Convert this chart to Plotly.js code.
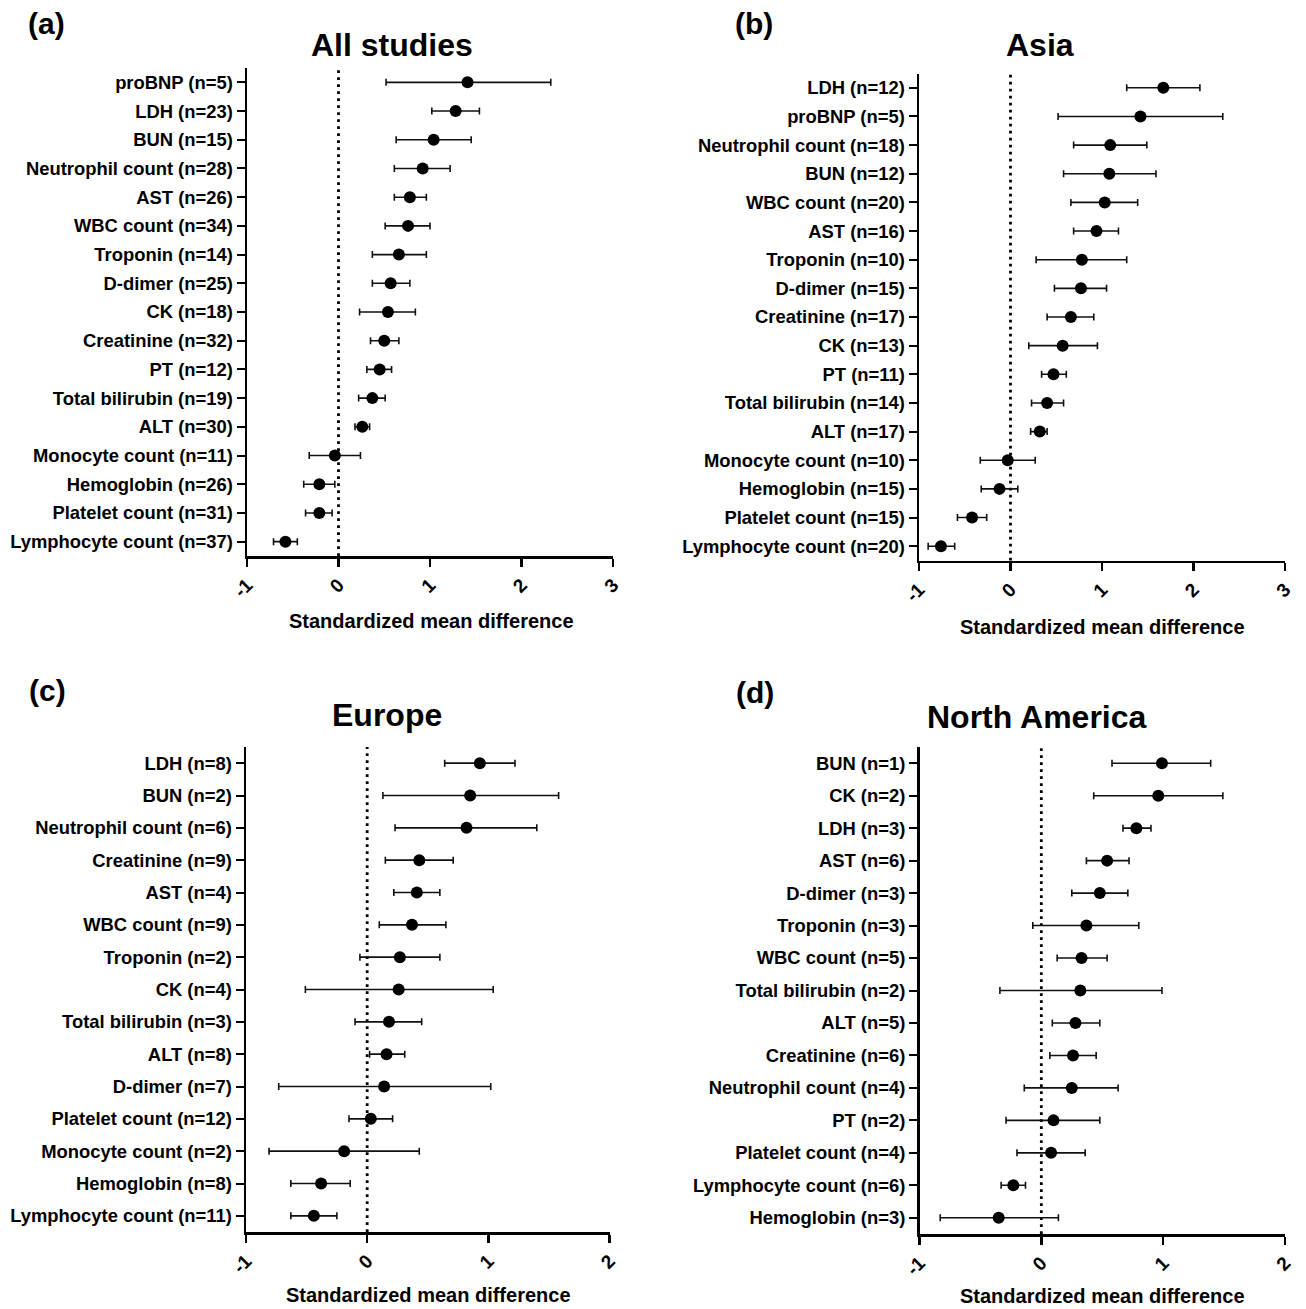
<!DOCTYPE html>
<html>
<head>
<meta charset="utf-8">
<script src="https://cdn.plot.ly/plotly-3.0.1.min.js"></script>
<style>html,body{margin:0;padding:0;background:#fff;}#chart{width:1306px;height:1309px;}</style>
</head>
<body>
<div id="chart"></div>
<script>
// ---- Data (standardized mean difference with 95% CI) ----
const catsA = ['proBNP (n=5)','LDH (n=23)','BUN (n=15)','Neutrophil count (n=28)','AST (n=26)','WBC count (n=34)','Troponin (n=14)','D-dimer (n=25)','CK (n=18)','Creatinine (n=32)','PT (n=12)','Total bilirubin (n=19)','ALT (n=30)','Monocyte count (n=11)','Hemoglobin (n=26)','Platelet count (n=31)','Lymphocyte count (n=37)'];
const smdA = [1.41,1.28,1.04,0.92,0.78,0.76,0.66,0.57,0.54,0.50,0.45,0.37,0.26,-0.04,-0.21,-0.21,-0.58];
const loA  = [0.52,1.02,0.63,0.61,0.61,0.51,0.37,0.37,0.23,0.35,0.31,0.22,0.18,-0.32,-0.38,-0.36,-0.71];
const hiA  = [2.32,1.54,1.45,1.22,0.96,1.00,0.96,0.78,0.84,0.66,0.58,0.51,0.34,0.24,-0.04,-0.07,-0.45];

const catsB = ['LDH (n=12)','proBNP (n=5)','Neutrophil count (n=18)','BUN (n=12)','WBC count (n=20)','AST (n=16)','Troponin (n=10)','D-dimer (n=15)','Creatinine (n=17)','CK (n=13)','PT (n=11)','Total bilirubin (n=14)','ALT (n=17)','Monocyte count (n=10)','Hemoglobin (n=15)','Platelet count (n=15)','Lymphocyte count (n=20)'];
const smdB = [1.67,1.42,1.09,1.08,1.03,0.94,0.78,0.77,0.66,0.57,0.47,0.40,0.32,-0.03,-0.12,-0.42,-0.76];
const loB  = [1.27,0.52,0.69,0.58,0.66,0.69,0.28,0.48,0.40,0.20,0.34,0.23,0.22,-0.33,-0.32,-0.58,-0.90];
const hiB  = [2.07,2.32,1.49,1.59,1.39,1.18,1.27,1.05,0.91,0.95,0.61,0.58,0.40,0.27,0.08,-0.26,-0.61];

const catsC = ['LDH (n=8)','BUN (n=2)','Neutrophil count (n=6)','Creatinine (n=9)','AST (n=4)','WBC count (n=9)','Troponin (n=2)','CK (n=4)','Total bilirubin (n=3)','ALT (n=8)','D-dimer (n=7)','Platelet count (n=12)','Monocyte count (n=2)','Hemoglobin (n=8)','Lymphocyte count (n=11)'];
const smdC = [0.93,0.85,0.82,0.43,0.41,0.37,0.27,0.26,0.18,0.16,0.14,0.03,-0.19,-0.38,-0.44];
const loC  = [0.64,0.13,0.23,0.15,0.22,0.10,-0.06,-0.51,-0.10,0.02,-0.73,-0.15,-0.81,-0.63,-0.63];
const hiC  = [1.22,1.58,1.40,0.71,0.60,0.65,0.60,1.04,0.45,0.31,1.02,0.21,0.43,-0.14,-0.25];

const catsD = ['BUN (n=1)','CK (n=2)','LDH (n=3)','AST (n=6)','D-dimer (n=3)','Troponin (n=3)','WBC count (n=5)','Total bilirubin (n=2)','ALT (n=5)','Creatinine (n=6)','Neutrophil count (n=4)','PT (n=2)','Platelet count (n=4)','Lymphocyte count (n=6)','Hemoglobin (n=3)'];
const smdD = [0.99,0.96,0.78,0.54,0.48,0.37,0.33,0.32,0.28,0.26,0.25,0.10,0.08,-0.23,-0.35];
const loD  = [0.58,0.43,0.67,0.37,0.25,-0.07,0.13,-0.34,0.09,0.07,-0.14,-0.29,-0.20,-0.33,-0.83];
const hiD  = [1.39,1.49,0.90,0.72,0.71,0.80,0.54,0.99,0.48,0.45,0.63,0.48,0.36,-0.13,0.14];

const panelTitles = ['All studies','Asia','Europe','North America'];
const panelLetters = ['(a)','(b)','(c)','(d)'];
const xTitle = 'Standardized mean difference';
const xTicksAB = [-1,0,1,2,3];
const xTicksCD = [-1,0,1,2];

// ---- Layout helpers ----
const W = 1306, H = 1309;
const FONT = 'Liberation Sans, Arial, Helvetica, sans-serif';
const px = v => v / W;
const py = v => 1 - v / H;

const panels = [
  {cats: catsA, smd: smdA, lo: loA, hi: hiA, ticks: xTicksAB, box: [247, 613, 68, 556]},
  {cats: catsB, smd: smdB, lo: loB, hi: hiB, ticks: xTicksAB, box: [919, 1285, 73.5, 560.5]},
  {cats: catsC, smd: smdC, lo: loC, hi: hiC, ticks: xTicksCD, box: [246, 609.5, 747, 1232]},
  {cats: catsD, smd: smdD, lo: loD, hi: hiD, ticks: xTicksCD, box: [919.5, 1285, 747, 1234]}
];

const titlePos = [[392.5, 45], [1040, 45], [387, 715], [1037, 717]];
const letterPos = [[46, 23], [754, 23], [47, 690], [755, 692]];
const xTitlePos = [[431, 621], [1102, 627], [428, 1295], [1102, 1296]];

const data = [];
const layout = {
  width: W, height: H,
  margin: {l: 0, r: 0, t: 0, b: 0},
  paper_bgcolor: '#fff', plot_bgcolor: '#fff',
  showlegend: false,
  font: {family: FONT, color: '#000', size: 18, weight: 'bold'},
  shapes: [], annotations: []
};

panels.forEach((p, i) => {
  const k = i === 0 ? '' : String(i + 1);
  data.push({
    type: 'scatter', mode: 'markers',
    x: p.smd, y: p.cats,
    xaxis: 'x' + k, yaxis: 'y' + k,
    marker: {color: '#000', size: 12},
    error_x: {
      type: 'data', symmetric: false,
      array: p.hi.map((h, j) => h - p.smd[j]),
      arrayminus: p.lo.map((l, j) => p.smd[j] - l),
      color: '#111', thickness: 1.6, width: 3.5
    },
    hoverinfo: 'x+y'
  });
  const [x0, x1, y0, y1] = p.box;
  const n = p.cats.length;
  layout['xaxis' + k] = {
    domain: [px(x0), px(x1)],
    anchor: 'y' + k,
    range: [p.ticks[0], p.ticks[p.ticks.length - 1]],
    tickvals: p.ticks,
    ticktext: p.ticks.map(String),
    tickangle: -45,
    ticks: 'outside', ticklen: 8, tickwidth: 2.5, tickcolor: '#000',
    showline: true, linewidth: 2.5, linecolor: '#000',
    showgrid: false, zeroline: false,
    tickfont: {family: FONT, size: 19, color: '#000', weight: 'bold'},
    fixedrange: true
  };
  layout['yaxis' + k] = {
    domain: [py(y1), py(y0)],
    anchor: 'x' + k,
    type: 'category',
    categoryorder: 'array', categoryarray: p.cats,
    range: [n - 0.5, -0.5],
    ticks: 'outside', ticklen: 8, tickwidth: 2, tickcolor: '#000',
    showline: true, linewidth: 2.5, linecolor: '#000',
    showgrid: false, zeroline: false,
    tickfont: {family: FONT, size: 18.4, color: '#000', weight: 'bold'},
    fixedrange: true
  };
  layout.shapes.push({
    type: 'line', xref: 'x' + k, yref: 'y' + k + ' domain',
    x0: 0, x1: 0, y0: 0, y1: 1,
    line: {color: '#000', width: 2.8, dash: '2.8px,4.2px'},
    layer: 'below'
  });
  layout.annotations.push({
    text: panelTitles[i], xref: 'paper', yref: 'paper',
    x: px(titlePos[i][0]), y: py(titlePos[i][1]),
    xanchor: 'center', yanchor: 'middle', showarrow: false,
    font: {family: FONT, size: 32, color: '#000', weight: 'bold'}
  });
  layout.annotations.push({
    text: panelLetters[i], xref: 'paper', yref: 'paper',
    x: px(letterPos[i][0]), y: py(letterPos[i][1]),
    xanchor: 'center', yanchor: 'middle', showarrow: false,
    font: {family: FONT, size: 30, color: '#000', weight: 'bold'}
  });
  layout.annotations.push({
    text: xTitle, xref: 'paper', yref: 'paper',
    x: px(xTitlePos[i][0]), y: py(xTitlePos[i][1]),
    xanchor: 'center', yanchor: 'middle', showarrow: false,
    font: {family: FONT, size: 20, color: '#000', weight: 'bold'}
  });
});

Plotly.newPlot('chart', data, layout, {staticPlot: true, displayModeBar: false});
</script>
</body>
</html>
